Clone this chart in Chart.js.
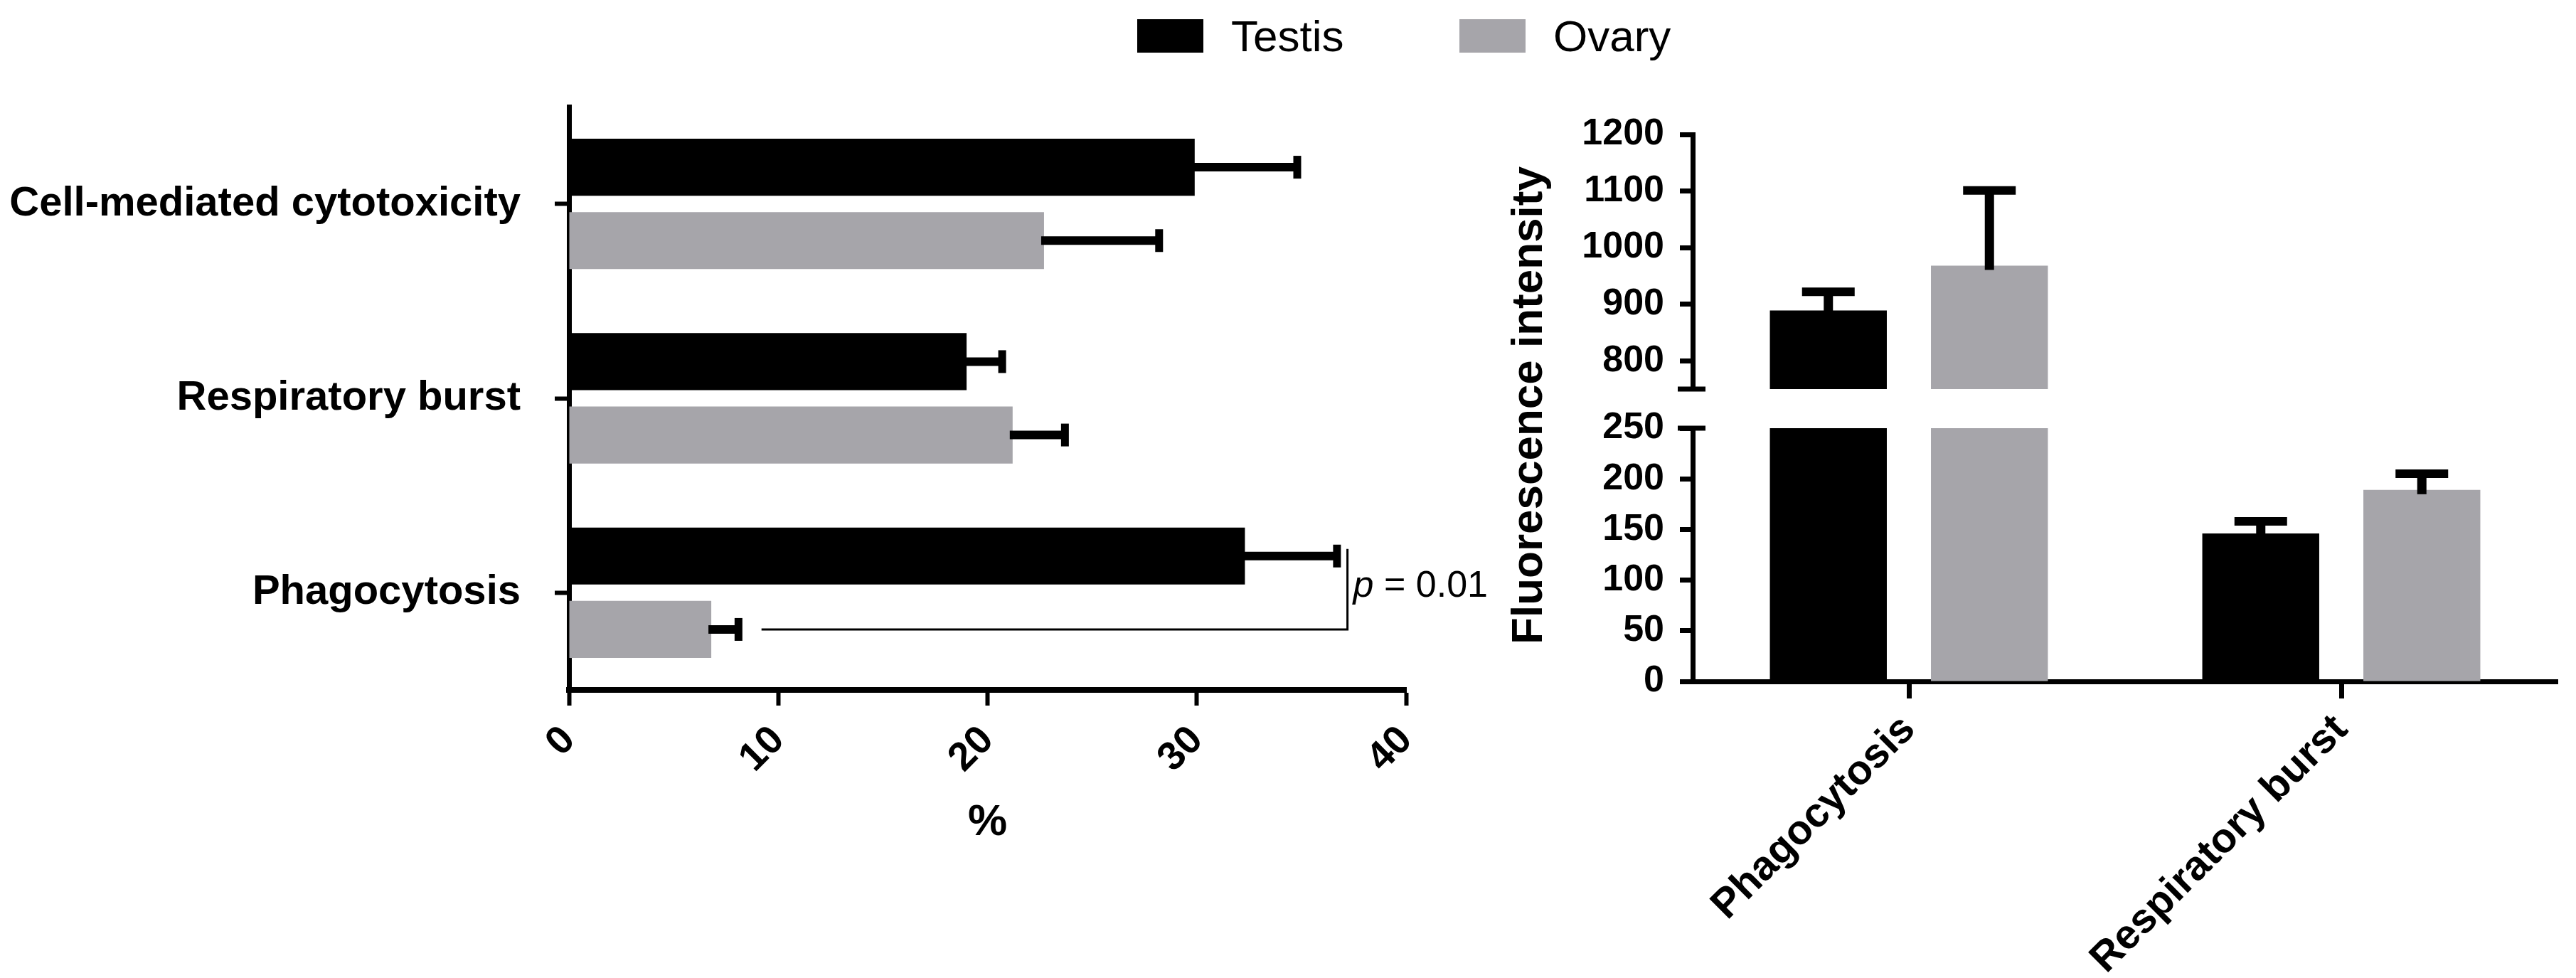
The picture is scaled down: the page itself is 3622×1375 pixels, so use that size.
<!DOCTYPE html>
<html>
<head>
<meta charset="utf-8">
<script src="https://cdn.jsdelivr.net/npm/chart.js@4.4.0/dist/chart.umd.min.js"></script>
<style>
  html, body { margin: 0; padding: 0; background: #fff; }
  body { width: 3622px; height: 1375px; position: relative; overflow: hidden;
         font-family: "Liberation Sans", Arial, sans-serif; }
  canvas { position: absolute; top: 0; }
  #leftChart { left: 0; }
  #lowerChart, #upperChart { left: 2050px; }
  .legend { position: absolute; top: 27px; height: 47px; display: flex; align-items: center;
            font-size: 62px; color: #000; }
  .legend span.box { display: inline-block; width: 93px; height: 47px; margin-right: 39px; }
</style>
</head>
<body>
<canvas id="leftChart" width="2150" height="1240"></canvas>
<canvas id="lowerChart" width="1572" height="1375"></canvas>
<canvas id="upperChart" width="1572" height="575"></canvas>
<div class="legend" style="left:1599px"><span class="box" style="background:#000"></span>Testis</div>
<div class="legend" style="left:2052px"><span class="box" style="background:#a6a5aa"></span>Ovary</div>

<script>
// ---- data: left panel (% of cells) ----
const pctCategories = ['Cell-mediated cytotoxicity', 'Respiratory burst', 'Phagocytosis'];
const pctTestis = [29.9, 19.0, 32.3];
const pctTestisErr = [4.9, 1.7, 4.4];
const pctOvary = [22.7, 21.2, 6.8];
const pctOvaryErr = [5.5, 2.5, 1.3];
const pctTicks = [0, 10, 20, 30, 40];

// significance bracket between the two Phagocytosis bars (in % units)
const pFrom = 9.2;
const pAt = 37.2;
const pText = ' = 0.01';

// ---- data: right panel (fluorescence intensity, broken axis) ----
const fiCategories = ['Phagocytosis', 'Respiratory burst'];
const fiTestis = [889, 146];
const fiTestisErr = [33, 12];
const fiOvary = [968, 189];
const fiOvaryErr = [133, 16];
const fiLowerTicks = [0, 50, 100, 150, 200, 250];
const fiUpperTicks = [800, 900, 1000, 1100, 1200];
const fiBreak = [250, 750];

const seriesNames = ['Testis', 'Ovary'];
const seriesColors = ['#000000', '#a6a5aa'];

Chart.defaults.font.family = '"Liberation Sans", Arial, sans-serif';
Chart.defaults.color = '#000';

// no automatic label padding, we size the axes ourselves
function noPad(s) { s.paddingTop = 0; s.paddingBottom = 0; s.paddingLeft = 0; s.paddingRight = 0; }

// error bars (positive side only), drawn from each dataset's "errors" list
const errorBars = {
  id: 'errorBars',
  afterDatasetsDraw(chart) {
    const ctx = chart.ctx;
    const horizontal = chart.options.indexAxis === 'y';
    const vScale = horizontal ? chart.scales.x : chart.scales.y;
    chart.data.datasets.forEach((ds, di) => {
      chart.getDatasetMeta(di).data.forEach((bar, i) => {
        const v = ds.data[i];
        const top = v + ds.errors[i];
        if (top < vScale.min || top > vScale.max) return;
        const end = vScale.getPixelForValue(top);
        ctx.save();
        ctx.strokeStyle = '#000';
        ctx.beginPath();
        if (horizontal) {
          ctx.lineWidth = 12;
          ctx.moveTo(bar.x - 4, bar.y);
          ctx.lineTo(end, bar.y);
          ctx.stroke();
          ctx.beginPath();
          ctx.lineWidth = 11;
          ctx.moveTo(end, bar.y - 16);
          ctx.lineTo(end, bar.y + 16);
        } else {
          ctx.lineWidth = 13;
          ctx.moveTo(bar.x, bar.y + 6);
          ctx.lineTo(bar.x, end);
          ctx.stroke();
          ctx.beginPath();
          ctx.lineWidth = 12;
          ctx.moveTo(bar.x - 37, end);
          ctx.lineTo(bar.x + 37, end);
        }
        ctx.stroke();
        ctx.restore();
      });
    });
  }
};

// p-value bracket on the left panel
const pBracket = {
  id: 'pBracket',
  afterDatasetsDraw(chart) {
    const ctx = chart.ctx;
    const x = chart.scales.x;
    const tBar = chart.getDatasetMeta(0).data[2];
    const oBar = chart.getDatasetMeta(1).data[2];
    const xr = x.getPixelForValue(pAt);
    const xl = x.getPixelForValue(pFrom);
    ctx.save();
    ctx.strokeStyle = '#000';
    ctx.lineWidth = 3;
    ctx.beginPath();
    ctx.moveTo(xr, tBar.y - 10);
    ctx.lineTo(xr, oBar.y);
    ctx.lineTo(xl, oBar.y);
    ctx.stroke();
    const ty = (tBar.y + oBar.y) / 2 + 6;
    ctx.fillStyle = '#000';
    ctx.textBaseline = 'alphabetic';
    ctx.font = 'italic 52px "Liberation Sans", Arial, sans-serif';
    ctx.fillText('p', xr + 8, ty);
    const w = ctx.measureText('p').width;
    ctx.font = '52px "Liberation Sans", Arial, sans-serif';
    ctx.fillText(pText, xr + 8 + w, ty);
    ctx.restore();
  }
};

// short line across the y axis where it is broken
const breakMark = {
  id: 'breakMark',
  afterDraw(chart, args, opts) {
    const ctx = chart.ctx;
    const y = chart.scales.y.getPixelForValue(opts.value);
    const x = chart.chartArea.left;
    ctx.save();
    ctx.strokeStyle = '#000';
    ctx.lineWidth = 7;
    ctx.beginPath();
    ctx.moveTo(x - 21, y);
    ctx.lineTo(x + 18, y);
    ctx.stroke();
    ctx.restore();
  }
};

// shared y title for the two halves of the broken axis
const sideTitle = {
  id: 'sideTitle',
  afterDraw(chart, args, opts) {
    const ctx = chart.ctx;
    ctx.save();
    ctx.translate(opts.x, opts.y);
    ctx.rotate(-Math.PI / 2);
    ctx.fillStyle = '#000';
    ctx.font = 'bold 62px "Liberation Sans", Arial, sans-serif';
    ctx.textAlign = 'center';
    ctx.textBaseline = 'alphabetic';
    ctx.fillText(opts.text, 0, 0);
    ctx.restore();
  }
};

const plainNumber = v => String(v);

// ---- left panel ----
new Chart(document.getElementById('leftChart'), {
  type: 'bar',
  data: {
    labels: pctCategories,
    datasets: [
      { label: seriesNames[0], data: pctTestis, errors: pctTestisErr, backgroundColor: seriesColors[0],
        categoryPercentage: 0.755, barPercentage: 0.777 },
      { label: seriesNames[1], data: pctOvary, errors: pctOvaryErr, backgroundColor: seriesColors[1],
        categoryPercentage: 0.755, barPercentage: 0.777 }
    ]
  },
  options: {
    indexAxis: 'y',
    responsive: false,
    animation: false,
    layout: { padding: { top: 150, right: 173, left: 0, bottom: 0 } },
    scales: {
      y: {
        grid: { drawOnChartArea: false, offset: false, tickLength: 20, tickWidth: 6, color: '#000' },
        border: { color: '#000', width: 7 },
        ticks: { padding: 48, font: { size: 58, weight: 'bold' } },
        afterFit: s => { s.width = 800; noPad(s); }
      },
      x: {
        min: 0, max: 40,
        afterBuildTicks: s => { s.ticks = pctTicks.map(v => ({ value: v })); },
        grid: { drawOnChartArea: false, tickLength: 22, tickWidth: 6, color: '#000' },
        border: { color: '#000', width: 8 },
        ticks: { padding: 16, minRotation: 45, maxRotation: 45, callback: plainNumber,
                 font: { size: 56, weight: 'bold' } },
        title: { display: true, text: '%', font: { size: 62, weight: 'bold' }, padding: { top: 0, bottom: 46 } },
        afterFit: s => { s.height = 270; noPad(s); }
      }
    },
    plugins: { legend: { display: false }, tooltip: { enabled: false } }
  },
  plugins: [errorBars, pBracket]
});

// ---- right panel, lower part (0-250) ----
new Chart(document.getElementById('lowerChart'), {
  type: 'bar',
  data: {
    labels: fiCategories,
    datasets: [
      { label: seriesNames[0], data: fiTestis, errors: fiTestisErr, backgroundColor: seriesColors[0],
        categoryPercentage: 0.745, barPercentage: 0.726, clip: 0 },
      { label: seriesNames[1], data: fiOvary, errors: fiOvaryErr, backgroundColor: seriesColors[1],
        categoryPercentage: 0.745, barPercentage: 0.726, clip: 0 }
    ]
  },
  options: {
    responsive: false,
    animation: false,
    layout: { padding: { top: 602, right: 26, left: 0, bottom: 0 } },
    scales: {
      x: {
        grid: { drawOnChartArea: false, offset: false, tickLength: 24, tickWidth: 7, color: '#000' },
        border: { color: '#000', width: 7 },
        ticks: { padding: 10, minRotation: 45, maxRotation: 45, font: { size: 58, weight: 'bold' } },
        afterFit: s => { s.height = 417; noPad(s); }
      },
      y: {
        min: 0, max: fiBreak[0],
        afterBuildTicks: s => { s.ticks = fiLowerTicks.map(v => ({ value: v })); },
        grid: { drawOnChartArea: false, tickLength: 18, tickWidth: 7, color: '#000' },
        border: { color: '#000', width: 7 },
        ticks: { padding: 22, callback: plainNumber, font: { size: 52, weight: 'bold' } },
        afterFit: s => { s.width = 330; noPad(s); }
      }
    },
    plugins: {
      legend: { display: false }, tooltip: { enabled: false },
      breakMark: { value: fiBreak[0] },
      sideTitle: { text: 'Fluorescence intensity', x: 118, y: 570 }
    }
  },
  plugins: [errorBars, breakMark, sideTitle]
});

// ---- right panel, upper part (750-1200) ----
new Chart(document.getElementById('upperChart'), {
  type: 'bar',
  data: {
    labels: fiCategories,
    datasets: [
      { label: seriesNames[0], data: fiTestis, errors: fiTestisErr, backgroundColor: seriesColors[0],
        categoryPercentage: 0.745, barPercentage: 0.726, clip: 0 },
      { label: seriesNames[1], data: fiOvary, errors: fiOvaryErr, backgroundColor: seriesColors[1],
        categoryPercentage: 0.745, barPercentage: 0.726, clip: 0 }
    ]
  },
  options: {
    responsive: false,
    animation: false,
    layout: { padding: { top: 189, right: 26, left: 0, bottom: 28 } },
    scales: {
      x: { display: false, afterFit: s => { noPad(s); } },
      y: {
        min: fiBreak[1], max: 1200,
        afterBuildTicks: s => { s.ticks = fiUpperTicks.map(v => ({ value: v })); },
        grid: { drawOnChartArea: false, tickLength: 18, tickWidth: 7, color: '#000' },
        border: { color: '#000', width: 7 },
        ticks: { padding: 22, callback: plainNumber, font: { size: 52, weight: 'bold' } },
        afterFit: s => { s.width = 330; noPad(s); }
      }
    },
    plugins: {
      legend: { display: false }, tooltip: { enabled: false },
      breakMark: { value: fiBreak[1] }
    }
  },
  plugins: [errorBars, breakMark]
});
</script>
</body>
</html>
